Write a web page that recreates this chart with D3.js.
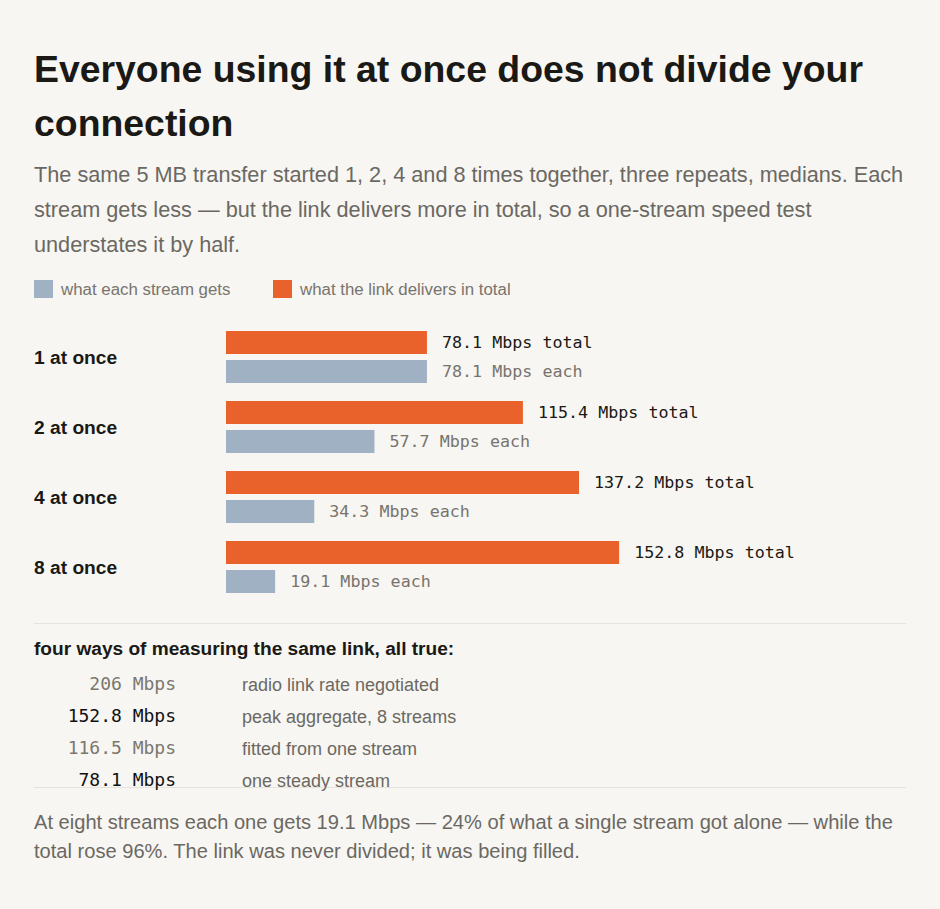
<!DOCTYPE html>
<html><head><meta charset="utf-8">
<script src="https://cdn.jsdelivr.net/npm/d3@7"></script>
<style>
html,body{margin:0;padding:0;background:#f7f6f2;}
svg{display:block;}
</style></head><body>
<svg id="c" width="940" height="909"></svg>
<script>
const titleLines = ["Everyone using it at once does not divide your", "connection"];
const subtitleLines = [
  "The same 5 MB transfer started 1, 2, 4 and 8 times together, three repeats, medians. Each",
  "stream gets less \u2014 but the link delivers more in total, so a one-stream speed test",
  "understates it by half."
];
const legendLabels = ["what each stream gets", "what the link delivers in total"];
const categories = ["1 at once", "2 at once", "4 at once", "8 at once"];
const totalMbps = [78.1, 115.4, 137.2, 152.8];
const eachMbps = [78.1, 57.7, 34.3, 19.1];
const tableHeading = "four ways of measuring the same link, all true:";
const tableValues = ["206", "152.8", "116.5", "78.1"];
const tableDescs = ["radio link rate negotiated", "peak aggregate, 8 streams", "fitted from one stream", "one steady stream"];
const tableStrong = [false, true, false, true];
const footerLines = [
  "At eight streams each one gets 19.1 Mbps \u2014 24% of what a single stream got alone \u2014 while the",
  "total rose 96%. The link was never divided; it was being filled."
];
const scaleMax = 206;

const SANS = "'Liberation Sans', Arial, sans-serif";
const MONO = "'DejaVu Sans Mono', monospace";
const ORANGE = "#e9622b", GREY = "#a0b1c4";

const svg = d3.select("#c");

// title
svg.append("g").selectAll("text").data(titleLines).join("text")
  .attr("x", 34).attr("y", (d,i) => 82 + i*54)
  .attr("font-family", SANS).attr("font-weight", "bold").attr("font-size", 37.4)
  .attr("fill", "#1a1915").text(d => d);

svg.append("g").selectAll("text").data(subtitleLines).join("text")
  .attr("x", 34).attr("y", (d,i) => 182 + i*35)
  .attr("font-family", SANS).attr("font-size", 21.7)
  .attr("fill", "#6b6862").text(d => d);

// legend
const leg = svg.append("g");
const legX = [34, 273];
const legC = [GREY, ORANGE];
legendLabels.forEach((t,i) => {
  leg.append("rect").attr("x", legX[i]).attr("y", 280).attr("width", 19).attr("height", 18).attr("fill", legC[i]);
  leg.append("text").attr("x", legX[i] + 27).attr("y", 295)
    .attr("font-family", SANS).attr("font-size", 16.85).attr("fill", "#77746e").text(t);
});

// bars
const x = d3.scaleLinear().domain([0, scaleMax]).range([226, 756]);
const y = d3.scaleBand().domain(categories).range([331, 611]).paddingInner(0).paddingOuter(0);
const barH = 23, gap = 6;

const g = svg.append("g");
const rows = g.selectAll("g.row").data(categories).join("g").attr("class", "row")
  .attr("transform", d => `translate(0,${y(d)})`);

rows.append("text").attr("x", 34).attr("y", barH + gap/2 + 7)
  .attr("font-family", SANS).attr("font-weight", "bold").attr("font-size", 19.2)
  .attr("fill", "#1a1915").text(d => d);

rows.append("rect").attr("x", x(0)).attr("y", 0).attr("height", barH)
  .attr("width", (d,i) => x(totalMbps[i]) - x(0)).attr("fill", ORANGE);
rows.append("rect").attr("x", x(0)).attr("y", barH + gap).attr("height", barH)
  .attr("width", (d,i) => x(eachMbps[i]) - x(0)).attr("fill", GREY);

rows.append("text").attr("x", (d,i) => x(totalMbps[i]) + 15).attr("y", 17)
  .attr("font-family", MONO).attr("font-size", 16.7).attr("fill", "#1a1915")
  .text((d,i) => `${totalMbps[i].toFixed(1)} Mbps total`);
rows.append("text").attr("x", (d,i) => x(eachMbps[i]) + 15).attr("y", barH + gap + 17)
  .attr("font-family", MONO).attr("font-size", 16.7).attr("fill", "#77746e")
  .text((d,i) => `${eachMbps[i].toFixed(1)} Mbps each`);

// dividers
svg.append("line").attr("x1", 34).attr("x2", 906).attr("y1", 623.5).attr("y2", 623.5)
  .attr("stroke", "#e6e3dc").attr("stroke-width", 1);
svg.append("line").attr("x1", 34).attr("x2", 906).attr("y1", 787.5).attr("y2", 787.5)
  .attr("stroke", "#e6e3dc").attr("stroke-width", 1);

// table
svg.append("text").attr("x", 34).attr("y", 655)
  .attr("font-family", SANS).attr("font-weight", "bold").attr("font-size", 19.1)
  .attr("fill", "#1a1915").text(tableHeading);

const tb = svg.append("g");
tableValues.forEach((v,i) => {
  tb.append("text").attr("x", 176).attr("y", 690 + i*32).attr("text-anchor", "end")
    .attr("font-family", MONO).attr("font-size", 18)
    .attr("fill", tableStrong[i] ? "#111" : "#7a7770").text(`${v} Mbps`);
  tb.append("text").attr("x", 242).attr("y", 691 + i*32)
    .attr("font-family", SANS).attr("font-size", 18)
    .attr("fill", "#6b6862").text(tableDescs[i]);
});

// footer
svg.append("g").selectAll("text").data(footerLines).join("text")
  .attr("x", 34).attr("y", (d,i) => 829 + i*29)
  .attr("font-family", SANS).attr("font-size", 20.1)
  .attr("fill", "#6b6862").text(d => d);
</script>
</body></html>
